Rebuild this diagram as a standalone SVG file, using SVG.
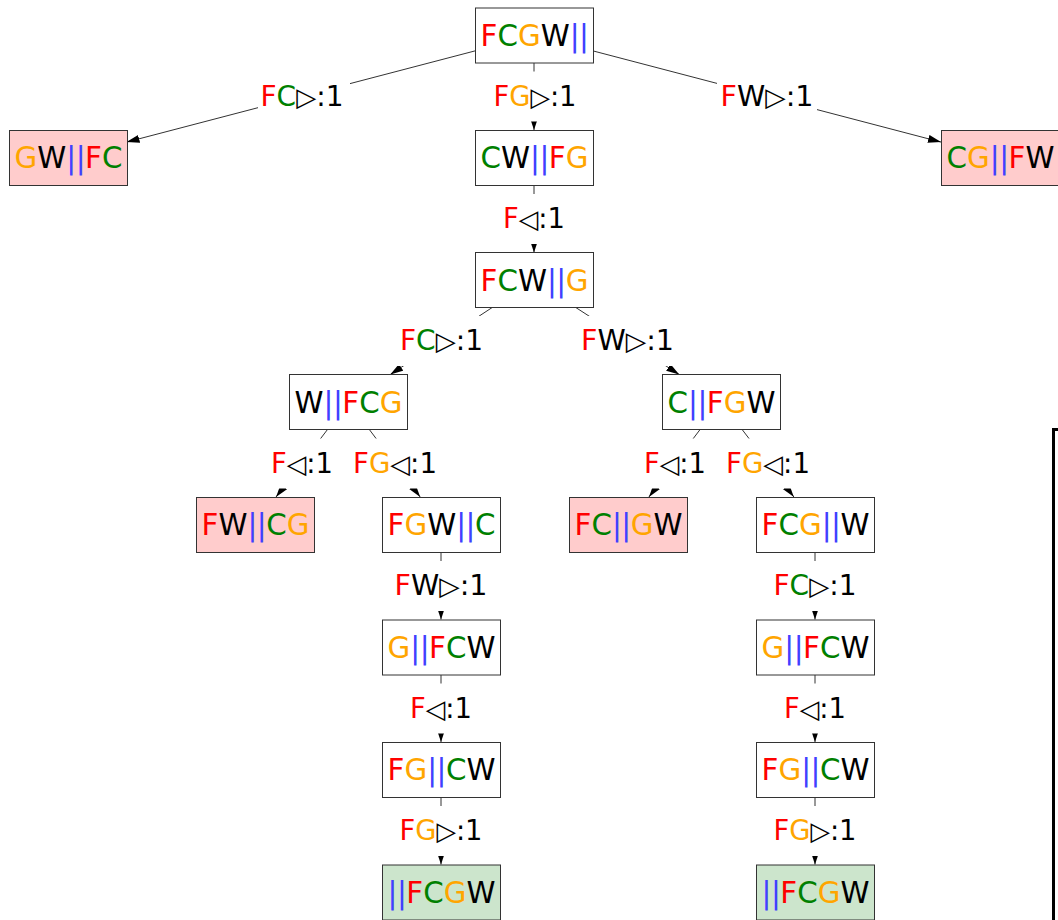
<svg xmlns="http://www.w3.org/2000/svg" width="1058" height="920" viewBox="0 0 1058 920">
<style>
.box{fill:#fff;stroke:#333;stroke-width:1}
.bad{fill:#ffcccc}
.goal{fill:#cce5cc}
.nt{font-family:"DejaVu Sans",sans-serif;font-size:31px;text-anchor:middle}
.lt{font-family:"DejaVu Sans",sans-serif;font-size:28px;text-anchor:middle}
.tri{font-size:26px}
.r{fill:#ff0000}.g{fill:#008000}.o{fill:#ffa500}.b{fill:#4040ff;letter-spacing:-0.5px}.k{fill:#000}
.edge{stroke:#333;stroke-width:1;fill:none}
.lbg{fill:#fff}
</style>
<defs>
<marker id="arr" markerUnits="userSpaceOnUse" markerWidth="10" markerHeight="8" refX="9" refY="3" orient="auto"><path d="M0,0 L9,3 L0,6 z" fill="#000"/></marker>
<marker id="arrL" markerUnits="userSpaceOnUse" markerWidth="14" markerHeight="10" refX="13" refY="4" orient="auto"><path d="M0,0 L13,4 L0,8 z" fill="#000"/></marker>
</defs>
<rect width="1058" height="920" fill="#fff"/>
<g id="connectors">
<line class="edge" x1="475" y1="50.9" x2="126.5" y2="142.1" marker-end="url(#arrL)"/>
<line class="edge" x1="534" y1="63" x2="534" y2="130" marker-end="url(#arr)"/>
<line class="edge" x1="593" y1="50.9" x2="941" y2="142.1" marker-end="url(#arrL)"/>
<line class="edge" x1="534" y1="185" x2="534" y2="252.5" marker-end="url(#arr)"/>
<line class="edge" x1="492.2" y1="307.5" x2="390.3" y2="374.5" marker-end="url(#arrL)"/>
<line class="edge" x1="575.8" y1="307.5" x2="679.2" y2="374.5" marker-end="url(#arrL)"/>
<line class="edge" x1="327.5" y1="429.5" x2="276" y2="497" marker-end="url(#arrL)"/>
<line class="edge" x1="369.3" y1="429.5" x2="420.2" y2="497" marker-end="url(#arrL)"/>
<line class="edge" x1="700.1" y1="429.5" x2="648.9" y2="497" marker-end="url(#arrL)"/>
<line class="edge" x1="742.1" y1="429.5" x2="793.9" y2="497" marker-end="url(#arrL)"/>
<line class="edge" x1="441" y1="552" x2="441" y2="619.5" marker-end="url(#arr)"/>
<line class="edge" x1="441" y1="674.5" x2="441" y2="742" marker-end="url(#arr)"/>
<line class="edge" x1="441" y1="797" x2="441" y2="864.5" marker-end="url(#arr)"/>
<line class="edge" x1="815" y1="552" x2="815" y2="619.5" marker-end="url(#arr)"/>
<line class="edge" x1="815" y1="674.5" x2="815" y2="742" marker-end="url(#arr)"/>
<line class="edge" x1="815" y1="797" x2="815" y2="864.5" marker-end="url(#arr)"/>
<rect class="lbg" x="258" y="71.5" width="92" height="50"/>
<text class="lt" x="302" y="105.5" textLength="83" lengthAdjust="spacingAndGlyphs"><tspan class="r">F</tspan><tspan class="g">C</tspan><tspan class="k tri">▷</tspan><tspan class="k">:1</tspan></text>
<rect class="lbg" x="488" y="71.5" width="92" height="50"/>
<text class="lt" x="535" y="105.5" textLength="83" lengthAdjust="spacingAndGlyphs"><tspan class="r">F</tspan><tspan class="o">G</tspan><tspan class="k tri">▷</tspan><tspan class="k">:1</tspan></text>
<rect class="lbg" x="717" y="71.5" width="100" height="50"/>
<text class="lt" x="767" y="105.5" textLength="93" lengthAdjust="spacingAndGlyphs"><tspan class="r">F</tspan><tspan class="k">W</tspan><tspan class="k tri">▷</tspan><tspan class="k">:1</tspan></text>
<rect class="lbg" x="499" y="194" width="70" height="50"/>
<text class="lt" x="534" y="228" textLength="62" lengthAdjust="spacingAndGlyphs"><tspan class="r">F</tspan><tspan class="k tri">◁</tspan><tspan class="k">:1</tspan></text>
<rect class="lbg" x="395" y="316" width="92" height="50"/>
<text class="lt" x="441.5" y="350" textLength="83" lengthAdjust="spacingAndGlyphs"><tspan class="r">F</tspan><tspan class="g">C</tspan><tspan class="k tri">▷</tspan><tspan class="k">:1</tspan></text>
<rect class="lbg" x="577.5" y="316" width="100" height="50"/>
<text class="lt" x="627.5" y="350" textLength="93" lengthAdjust="spacingAndGlyphs"><tspan class="r">F</tspan><tspan class="k">W</tspan><tspan class="k tri">▷</tspan><tspan class="k">:1</tspan></text>
<rect class="lbg" x="267" y="438.5" width="70" height="50"/>
<text class="lt" x="302" y="472.5" textLength="62" lengthAdjust="spacingAndGlyphs"><tspan class="r">F</tspan><tspan class="k tri">◁</tspan><tspan class="k">:1</tspan></text>
<rect class="lbg" x="349" y="438.5" width="92" height="50"/>
<text class="lt" x="395" y="472.5" textLength="84" lengthAdjust="spacingAndGlyphs"><tspan class="r">F</tspan><tspan class="o">G</tspan><tspan class="k tri">◁</tspan><tspan class="k">:1</tspan></text>
<rect class="lbg" x="640" y="438.5" width="70" height="50"/>
<text class="lt" x="675" y="472.5" textLength="62" lengthAdjust="spacingAndGlyphs"><tspan class="r">F</tspan><tspan class="k tri">◁</tspan><tspan class="k">:1</tspan></text>
<rect class="lbg" x="722" y="438.5" width="92" height="50"/>
<text class="lt" x="768" y="472.5" textLength="84" lengthAdjust="spacingAndGlyphs"><tspan class="r">F</tspan><tspan class="o">G</tspan><tspan class="k tri">◁</tspan><tspan class="k">:1</tspan></text>
<rect class="lbg" x="391" y="561" width="100" height="50"/>
<text class="lt" x="441" y="595" textLength="93" lengthAdjust="spacingAndGlyphs"><tspan class="r">F</tspan><tspan class="k">W</tspan><tspan class="k tri">▷</tspan><tspan class="k">:1</tspan></text>
<rect class="lbg" x="406" y="683.5" width="70" height="50"/>
<text class="lt" x="441" y="717.5" textLength="62" lengthAdjust="spacingAndGlyphs"><tspan class="r">F</tspan><tspan class="k tri">◁</tspan><tspan class="k">:1</tspan></text>
<rect class="lbg" x="395" y="806" width="92" height="50"/>
<text class="lt" x="441" y="840" textLength="83" lengthAdjust="spacingAndGlyphs"><tspan class="r">F</tspan><tspan class="o">G</tspan><tspan class="k tri">▷</tspan><tspan class="k">:1</tspan></text>
<rect class="lbg" x="769" y="561" width="92" height="50"/>
<text class="lt" x="815" y="595" textLength="83" lengthAdjust="spacingAndGlyphs"><tspan class="r">F</tspan><tspan class="g">C</tspan><tspan class="k tri">▷</tspan><tspan class="k">:1</tspan></text>
<rect class="lbg" x="780" y="683.5" width="70" height="50"/>
<text class="lt" x="815" y="717.5" textLength="62" lengthAdjust="spacingAndGlyphs"><tspan class="r">F</tspan><tspan class="k tri">◁</tspan><tspan class="k">:1</tspan></text>
<rect class="lbg" x="769" y="806" width="92" height="50"/>
<text class="lt" x="815" y="840" textLength="83" lengthAdjust="spacingAndGlyphs"><tspan class="r">F</tspan><tspan class="o">G</tspan><tspan class="k tri">▷</tspan><tspan class="k">:1</tspan></text>
</g>
<g id="n-root"><rect class="box" x="475.5" y="8" width="118" height="55"/>
<text class="nt" x="534.5" y="46" textLength="108" lengthAdjust="spacingAndGlyphs"><tspan class="r">F</tspan><tspan class="g">C</tspan><tspan class="o">G</tspan><tspan class="k">W</tspan><tspan class="b">||</tspan></text></g>
<g id="n-gwfc"><rect class="box bad" x="9.5" y="130.5" width="118" height="55"/>
<text class="nt" x="68.5" y="168" textLength="108" lengthAdjust="spacingAndGlyphs"><tspan class="o">G</tspan><tspan class="k">W</tspan><tspan class="b">||</tspan><tspan class="r">F</tspan><tspan class="g">C</tspan></text></g>
<g id="n-cwfg"><rect class="box" x="475.5" y="130.5" width="118" height="55"/>
<text class="nt" x="534.5" y="168" textLength="108" lengthAdjust="spacingAndGlyphs"><tspan class="g">C</tspan><tspan class="k">W</tspan><tspan class="b">||</tspan><tspan class="r">F</tspan><tspan class="o">G</tspan></text></g>
<g id="n-cgfw"><rect class="box bad" x="941.5" y="130.5" width="118" height="55"/>
<text class="nt" x="1000.5" y="168" textLength="108" lengthAdjust="spacingAndGlyphs"><tspan class="g">C</tspan><tspan class="o">G</tspan><tspan class="b">||</tspan><tspan class="r">F</tspan><tspan class="k">W</tspan></text></g>
<g id="n-fcwg"><rect class="box" x="475.5" y="252.5" width="118" height="55"/>
<text class="nt" x="534.5" y="290.5" textLength="108" lengthAdjust="spacingAndGlyphs"><tspan class="r">F</tspan><tspan class="g">C</tspan><tspan class="k">W</tspan><tspan class="b">||</tspan><tspan class="o">G</tspan></text></g>
<g id="n-wfcg"><rect class="box" x="289.5" y="374.5" width="118" height="55"/>
<text class="nt" x="348.5" y="412.5" textLength="108" lengthAdjust="spacingAndGlyphs"><tspan class="k">W</tspan><tspan class="b">||</tspan><tspan class="r">F</tspan><tspan class="g">C</tspan><tspan class="o">G</tspan></text></g>
<g id="n-cfgw"><rect class="box" x="662.5" y="374.5" width="118" height="55"/>
<text class="nt" x="721.5" y="412.5" textLength="108" lengthAdjust="spacingAndGlyphs"><tspan class="g">C</tspan><tspan class="b">||</tspan><tspan class="r">F</tspan><tspan class="o">G</tspan><tspan class="k">W</tspan></text></g>
<g id="n-fwcg"><rect class="box bad" x="196.5" y="497.5" width="118" height="55"/>
<text class="nt" x="255.5" y="535" textLength="108" lengthAdjust="spacingAndGlyphs"><tspan class="r">F</tspan><tspan class="k">W</tspan><tspan class="b">||</tspan><tspan class="g">C</tspan><tspan class="o">G</tspan></text></g>
<g id="n-fgwc"><rect class="box" x="382.5" y="497.5" width="118" height="55"/>
<text class="nt" x="441.5" y="535" textLength="108" lengthAdjust="spacingAndGlyphs"><tspan class="r">F</tspan><tspan class="o">G</tspan><tspan class="k">W</tspan><tspan class="b">||</tspan><tspan class="g">C</tspan></text></g>
<g id="n-fcgw"><rect class="box bad" x="569.5" y="497.5" width="118" height="55"/>
<text class="nt" x="628.5" y="535" textLength="108" lengthAdjust="spacingAndGlyphs"><tspan class="r">F</tspan><tspan class="g">C</tspan><tspan class="b">||</tspan><tspan class="o">G</tspan><tspan class="k">W</tspan></text></g>
<g id="n-fcgw2"><rect class="box" x="756.5" y="497.5" width="118" height="55"/>
<text class="nt" x="815.5" y="535" textLength="108" lengthAdjust="spacingAndGlyphs"><tspan class="r">F</tspan><tspan class="g">C</tspan><tspan class="o">G</tspan><tspan class="b">||</tspan><tspan class="k">W</tspan></text></g>
<g id="n-gfcw-l"><rect class="box" x="382.5" y="620" width="118" height="55"/>
<text class="nt" x="441.5" y="657.5" textLength="108" lengthAdjust="spacingAndGlyphs"><tspan class="o">G</tspan><tspan class="b">||</tspan><tspan class="r">F</tspan><tspan class="g">C</tspan><tspan class="k">W</tspan></text></g>
<g id="n-fgcw-l"><rect class="box" x="382.5" y="742.5" width="118" height="55"/>
<text class="nt" x="441.5" y="780" textLength="108" lengthAdjust="spacingAndGlyphs"><tspan class="r">F</tspan><tspan class="o">G</tspan><tspan class="b">||</tspan><tspan class="g">C</tspan><tspan class="k">W</tspan></text></g>
<g id="n-goal-l"><rect class="box goal" x="382.5" y="865" width="118" height="55"/>
<text class="nt" x="441.5" y="902.5" textLength="108" lengthAdjust="spacingAndGlyphs"><tspan class="b">||</tspan><tspan class="r">F</tspan><tspan class="g">C</tspan><tspan class="o">G</tspan><tspan class="k">W</tspan></text></g>
<g id="n-gfcw-r"><rect class="box" x="756.5" y="620" width="118" height="55"/>
<text class="nt" x="815.5" y="657.5" textLength="108" lengthAdjust="spacingAndGlyphs"><tspan class="o">G</tspan><tspan class="b">||</tspan><tspan class="r">F</tspan><tspan class="g">C</tspan><tspan class="k">W</tspan></text></g>
<g id="n-fgcw-r"><rect class="box" x="756.5" y="742.5" width="118" height="55"/>
<text class="nt" x="815.5" y="780" textLength="108" lengthAdjust="spacingAndGlyphs"><tspan class="r">F</tspan><tspan class="o">G</tspan><tspan class="b">||</tspan><tspan class="g">C</tspan><tspan class="k">W</tspan></text></g>
<g id="n-goal-r"><rect class="box goal" x="756.5" y="865" width="118" height="55"/>
<text class="nt" x="815.5" y="902.5" textLength="108" lengthAdjust="spacingAndGlyphs"><tspan class="b">||</tspan><tspan class="r">F</tspan><tspan class="g">C</tspan><tspan class="o">G</tspan><tspan class="k">W</tspan></text></g>
<path id="frame" d="M1058,429.5 H1053.5 V920" fill="none" stroke="#000" stroke-width="3"/>
</svg>
